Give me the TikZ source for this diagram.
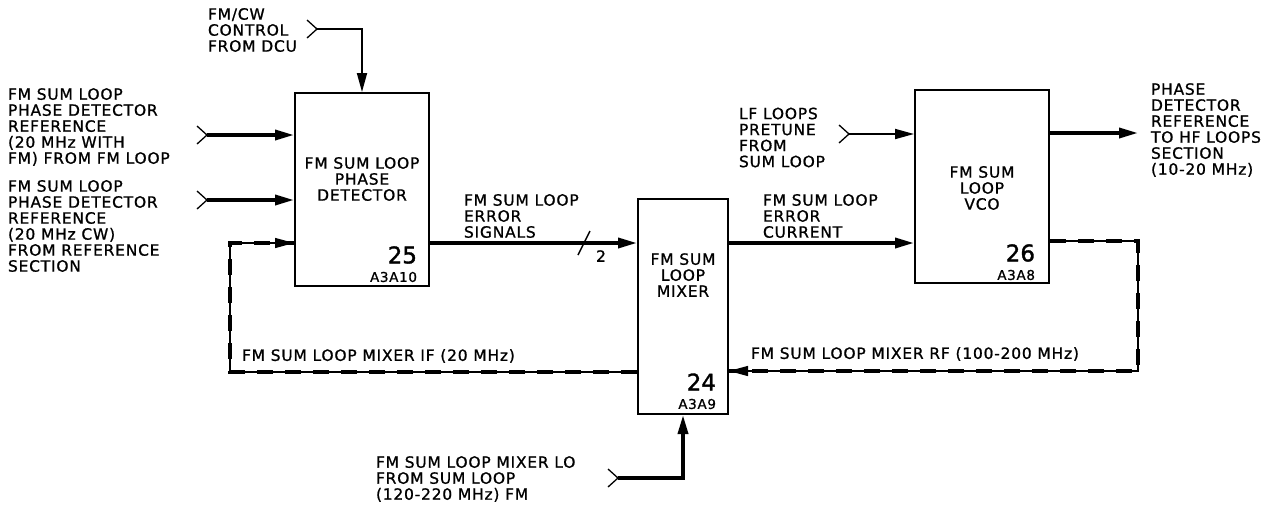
\documentclass[tikz,border=0pt]{standalone}
\usepackage{fontspec}
\newfontfamily\lbl{DejaVu Sans}[LetterSpace=5,FakeBold=1]
\newfontfamily\digf{DejaVu Sans}[FakeBold=1.5]
\usetikzlibrary{arrows.meta}
\tikzset{
  chev/.pic={\draw[line width=1.3pt] (-10,-9) -- (0,0) -- (-10,9);}
}

\begin{document}
\begin{tikzpicture}[
  x=1pt, y=-1pt,
  line width=2pt,
  every node/.style={font=\lbl\fontsize{15.5}{16}\selectfont, inner sep=0pt},
  blk/.style={draw, line width=2pt},
  sig/.style={line width=3.5pt, -{Triangle[length=19pt,width=10pt]}},
  ctl/.style={line width=1.8pt, -{Triangle[length=19pt,width=10pt]}},
  fbk/.style={line width=1.3pt, -{Triangle[length=19pt,width=10pt]},
    postaction={draw, -, line width=3.5pt, dash pattern=on 16pt off 12pt}},
  txt/.style={align=left, anchor=west},
  num/.style={font=\digf\fontsize{23}{23}\selectfont, anchor=east},
  ref/.style={font=\lbl\fontsize{13.5}{14}\selectfont, anchor=east}
]
\useasboundingbox (0,0) rectangle (1283,507);
% boxes
\node[blk, minimum width=134pt, minimum height=193pt] (pd) at (362,189.5) {};
\node[align=center] (pdtxt) at (362,179) {FM SUM LOOP\\PHASE\\DETECTOR};
\node[num] (pdnum) at (418,255) {25};
\node[ref] (pdref) at (418,277) {A3A10};

\node[blk, minimum width=90pt, minimum height=215pt] (mix) at (683,306.5) {};
\node[align=center] (mixtxt) at (683,275) {FM SUM\\LOOP\\MIXER};
\node[num] (mixnum) at (717,382) {24};
\node[ref] (mixref) at (717,404) {A3A9};

\node[blk, minimum width=134pt, minimum height=193pt] (vco) at (982,186.5) {};
\node[align=center] (vcotxt) at (982,188) {FM SUM\\LOOP\\VCO};
\node[num] (vconum) at (1036,253) {26};
\node[ref] (vcoref) at (1036,275) {A3A8};

% labels
\node[txt] (fmcw) at (207,30) {FM/CW\\CONTROL\\FROM DCU};
\node[txt] (refa) at (7,127) {FM SUM LOOP\\PHASE DETECTOR\\REFERENCE\\(20 MHz WITH\\FM) FROM FM LOOP};
\node[txt] (refb) at (7,226) {FM SUM LOOP\\PHASE DETECTOR\\REFERENCE\\(20 MHz CW)\\FROM REFERENCE\\SECTION};
\node[txt] (errs) at (463,216) {FM SUM LOOP\\ERROR\\SIGNALS};
\node[txt] (errc) at (762,216) {FM SUM LOOP\\ERROR\\CURRENT};
\node[txt] (pret) at (738,137.5) {LF LOOPS\\PRETUNE\\FROM\\SUM LOOP};
\node[txt] (hfout) at (1150,130) {PHASE\\DETECTOR\\REFERENCE\\TO HF LOOPS\\SECTION\\(10-20 MHz)};
\node[txt] (iflbl) at (241,356) {FM SUM LOOP MIXER IF (20 MHz)};
\node[txt] (rflbl) at (750,354) {FM SUM LOOP MIXER RF (100-200 MHz)};
\node[txt] (lolbl) at (375,479) {FM SUM LOOP MIXER LO\\FROM SUM LOOP\\(120-220 MHz) FM};

% line ends
\coordinate (cwin) at (317,29);
\coordinate (ina) at (207,135);
\coordinate (inb) at (207,200);
\coordinate (lfin) at (849,134);
\coordinate (loin) at (618,478);
\coordinate (hfend) at (1138,133);
\coordinate (ifl) at (230,372);
\coordinate (ifu) at (230,243);
\coordinate (rfr) at (1138,241);
\coordinate (rfb) at (1138,371);
\coordinate (sla) at (578,255);
\coordinate (slb) at (590,231);

\foreach \p in {cwin,ina,inb,lfin,loin}
  \pic at (\p) {chev};

% signal lines
\draw[ctl] (cwin) -| (pd.north);
\draw[sig] (ina) -- (ina -| pd.west);
\draw[sig] (inb) -- (inb -| pd.west);
\draw[sig] (pd.east |- ifu) -- (mix.west |- ifu);
\draw[line width=1.5pt] (sla) -- (slb);
\node (bus) at (601,256) {2};
\draw[sig] (mix.east |- ifu) -- (vco.west |- ifu);
\draw[ctl] (lfin) -- (lfin -| vco.west);
\draw[sig] (vco.east |- hfend) -- (hfend);
\draw[sig] (loin) -| (mix.south);
% loops
\draw[fbk] (mix.west |- ifl) -- (ifl) -- (ifu) -- (ifu -| pd.west);
\draw[fbk] (vco.east |- rfr) -- (rfr) -- (rfb) -- (rfb -| mix.east);
\end{tikzpicture}
\end{document}
